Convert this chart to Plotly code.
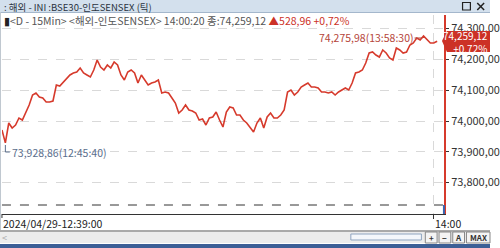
import plotly.graph_objects as go

# ---- data ----
prices = [
    73970.80, 73928.86, 73993.50, 73977.30, 73987.00, 74009.70, 74003.20, 74029.20, 74052.00, 74084.40,
    74090.90, 74077.90, 74074.70, 74061.70, 74061.70, 74064.90, 74116.90, 74113.60, 74126.60, 74139.60,
    74149.40, 74155.90, 74159.10, 74172.10, 74155.90, 74149.40, 74142.90, 74165.60, 74198.10, 74175.30,
    74165.60, 74181.80, 74172.10, 74191.60, 74181.80, 74149.40, 74133.10, 74159.10, 74165.60, 74155.90,
    74123.40, 74149.40, 74133.10, 74116.90, 74123.40, 74126.60, 74133.10, 74090.90, 74094.20, 74090.90,
    74074.70, 74058.40, 74026.00, 74035.70, 74052.00, 74035.70, 74032.50, 74026.00, 74003.20, 74006.40,
    73987.00, 74009.70, 74013.00, 74029.20, 74003.20, 73980.50, 74029.20, 74045.50, 74042.20, 74019.50,
    74019.50, 74003.20, 73993.50, 73977.30, 73964.30, 73993.50, 74009.70, 73977.30, 74013.00, 74026.00,
    74009.70, 74009.70, 74019.50, 74035.70, 74094.20, 74100.70, 74084.40, 74094.20, 74110.40, 74116.90,
    74123.40, 74110.40, 74110.40, 74107.20, 74094.20, 74094.20, 74090.90, 74094.20, 74084.40, 74094.20,
    74100.70, 74107.20, 74100.70, 74123.40, 74155.90, 74159.10, 74165.60, 74188.30, 74220.80, 74224.00,
    74214.30, 74207.80, 74230.50, 74220.80, 74204.60, 74198.10, 74237.00, 74230.50, 74220.80, 74224.00,
    74246.80, 74253.30, 74269.50, 74263.00, 74275.98, 74263.00, 74253.30, 74253.30, 74259.12,
]
tick_index = list(range(len(prices)))
y_ticks = [73800, 73900, 74000, 74100, 74200, 74300]
y_tick_labels = ["73,800,00", "73,900,00", "74,000,00", "74,100,00", "74,200,00", "74,300,00"]
x_tick_pos = [127]
x_tick_labels = ["14:00"]
low_idx, high_idx = 1, 124
title_text = "해외 - INI :BSE30-인도SENSEX (틱)"
legend_gray = "&lt;D - 15Min&gt; &lt;해외-인도SENSEX&gt; 14:00:20 종:74,259,12"
legend_red = "▲528,96 +0,72%"
last_label = "74,259,12<br>+0,72%"
low_label = "73,928,86(12:45:40)"
high_label = "74,275,98(13:58:30)"
start_label = "2024/04/29-12:39:00"

W, H = 500, 248
def px(x):
    return x / W
def py(y):
    return 1 - y / H

RED = "#d63a2c"
FONT = "Noto Sans CJK KR"

fig = go.Figure()
fig.add_trace(go.Scatter(x=tick_index, y=prices, mode="lines",
                         line=dict(color=RED, width=1.6), hoverinfo="skip", showlegend=False))

def val_at(ypix):
    return 74000 + (121 - ypix) / 0.308

fig.update_layout(
    width=W, height=H, margin=dict(l=0, r=0, t=0, b=0),
    paper_bgcolor="white", plot_bgcolor="white",
    font=dict(family=FONT, size=11, color="#333"),
    xaxis=dict(domain=[px(2), px(453)], range=[0, 130], showgrid=True,
               gridcolor="#d9d9d9", griddash="dash", gridwidth=1,
               tickvals=x_tick_pos, ticktext=x_tick_labels, ticks="outside", ticklen=4,
               tickcolor="#333", showticklabels=False, showline=True, linecolor="#333", linewidth=1,
               zeroline=False),
    yaxis=dict(domain=[py(214), py(15)], range=[val_at(214), val_at(15)], side="right",
               tickvals=y_ticks, ticktext=y_tick_labels, showgrid=True,
               gridcolor="#d9d9d9", griddash="dash", gridwidth=1,
               ticks="outside", ticklen=3, tickcolor="#333",
               showline=True, linecolor=RED, linewidth=2, zeroline=False,
               tickfont=dict(size=11, color="#333")),
)

shapes = []
# title bar
shapes.append(dict(type="rect", xref="paper", yref="paper", x0=0, x1=1, y0=py(12.5), y1=1,
                   fillcolor="#d3e0ed", line=dict(width=0), layer="above"))
shapes.append(dict(type="line", xref="paper", yref="paper", x0=0, x1=1, y0=py(12.5), y1=py(12.5),
                   line=dict(color="#a4b7cc", width=1), layer="above"))
# window buttons
shapes.append(dict(type="rect", xref="paper", yref="paper", x0=px(472), x1=px(480), y0=py(10), y1=py(2.5),
                   fillcolor="rgba(0,0,0,0)", line=dict(color="#222", width=1.2), layer="above"))
shapes.append(dict(type="line", xref="paper", yref="paper", x0=px(487), x1=px(494), y0=py(10), y1=py(3),
                   line=dict(color="#222", width=1.5), layer="above"))
shapes.append(dict(type="line", xref="paper", yref="paper", x0=px(487), x1=px(494), y0=py(3), y1=py(10),
                   line=dict(color="#222", width=1.5), layer="above"))
# left border
shapes.append(dict(type="line", xref="paper", yref="paper", x0=px(0.5), x1=px(0.5), y0=py(230), y1=py(12),
                   line=dict(color="#c0c8d0", width=1), layer="above"))
# dashed bottom line
shapes.append(dict(type="line", xref="paper", yref="paper", x0=px(2), x1=px(452), y0=py(205), y1=py(205),
                   line=dict(color="#333", width=1, dash="dash")))
# blue segment at bottom of red line
shapes.append(dict(type="line", xref="paper", yref="paper", x0=px(453), x1=px(453), y0=py(214), y1=py(205),
                   line=dict(color="#3a66b0", width=2), layer="above"))
# line under date row
shapes.append(dict(type="line", xref="paper", yref="paper", x0=0, x1=1, y0=py(231), y1=py(231),
                   line=dict(color="#555", width=1)))
# date tick
shapes.append(dict(type="line", xref="paper", yref="paper", x0=px(2), x1=px(2), y0=py(218), y1=py(214),
                   line=dict(color="#333", width=1)))
# scrollbar
shapes.append(dict(type="rect", xref="paper", yref="paper", x0=0, x1=1, y0=py(243), y1=py(232),
                   fillcolor="#ececec", line=dict(width=0)))
shapes.append(dict(type="rect", xref="paper", yref="paper", x0=px(358), x1=px(430), y0=py(240), y1=py(234),
                   fillcolor="#f4f7fb", line=dict(color="#8fa5c0", width=1)))
for bx0, bx1 in [(434, 446), (448, 460), (462, 474), (476, 500)]:
    shapes.append(dict(type="rect", xref="paper", yref="paper", x0=px(bx0), x1=px(bx1), y0=py(243), y1=py(232),
                       fillcolor="#f4f4f4", line=dict(color="#888", width=1)))
shapes.append(dict(type="rect", xref="paper", yref="paper", x0=0, x1=1, y0=0, y1=py(244),
                   fillcolor="#3c5f96", line=dict(width=0)))
# last price box with arrow
path = "M {} {} L {} {} L {} {} L {} {} L {} {} Z".format(
    px(451), py(41), px(456), py(31), px(500), py(31), px(500), py(52), px(456), py(52))
shapes.append(dict(type="path", xref="paper", yref="paper", path=path,
                   fillcolor="#cc3126", line=dict(width=0), layer="above"))
# low marker
shapes.append(dict(type="line", xref="x", yref="paper", x0=low_idx, x1=low_idx, y0=py(152), y1=py(145),
                   line=dict(color="#5a6e8c", width=1)))
shapes.append(dict(type="line", xref="paper", yref="paper", x0=px(5.5), x1=px(10), y0=py(152), y1=py(152),
                   line=dict(color="#5a6e8c", width=1)))
# high marker
shapes.append(dict(type="line", xref="paper", yref="paper", x0=px(423), x1=px(431), y0=py(38), y1=py(38),
                   line=dict(color="#b5453a", width=1)))
fig.update_layout(shapes=shapes)

ann = []
def text_ann(x, y, text, size=11, color="#333", xanchor="left", align="left", yanchor="middle"):
    ann.append(dict(xref="paper", yref="paper", x=px(x), y=py(y), text=text, showarrow=False,
                    xanchor=xanchor, yanchor=yanchor, align=align, borderpad=0,
                    font=dict(size=size, color=color, family=FONT)))

text_ann(3, 6.8, ": " + title_text, 9.5, "#2a3340")
text_ann(3, 20, "<span style='color:#222'>▮</span>" + legend_gray + " <span style='color:#cc3126'>" + legend_red + "</span>",
         10.5, "#555")
text_ann(499, 41.5, last_label, 10, "white", "right", "right")
text_ann(11, 152, low_label, 10.5, "#5a6e8c")
text_ann(423, 38, high_label, 10.5, "#b5453a", "right")
text_ann(2, 223, start_label, 10.5, "#222")
text_ann(443, 223, "14:00", 10.5, "#222")
text_ann(5, 237.5, "<", 9, "#aaa", "center")
for cx, t in [(440, "+"), (454, "−"), (468, "A"), (488, "MAX")]:
    text_ann(cx, 237.5, "<b>" + t + "</b>", 8, "#333", "center")
fig.update_layout(annotations=ann)

fig.write_html("out.html")
